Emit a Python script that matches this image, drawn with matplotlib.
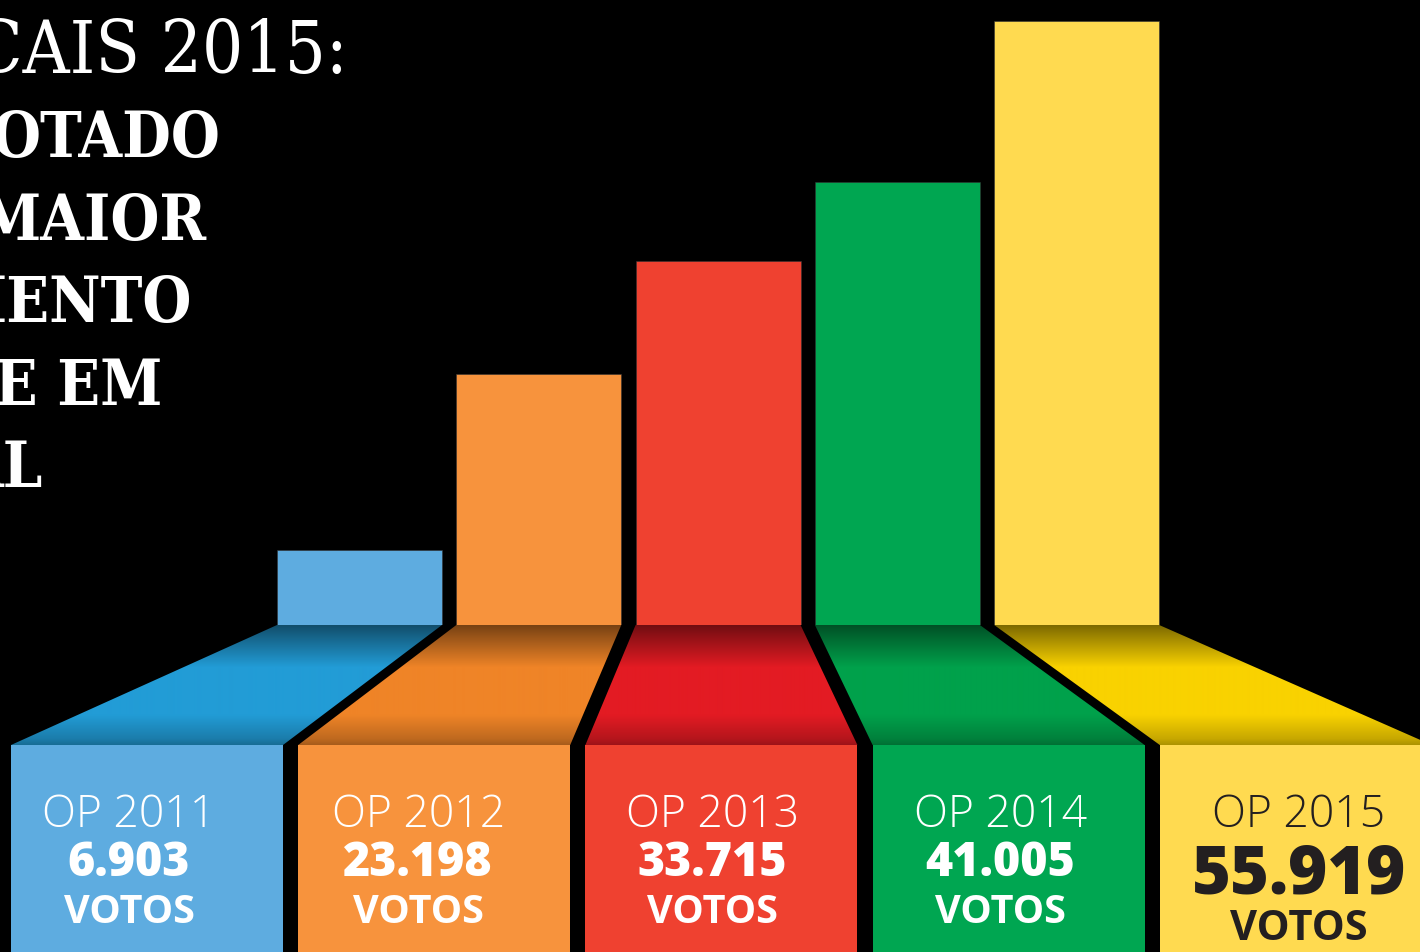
"""Participatory budget votes 2011-2015: stepped bars with perspective label boxes."""

import numpy as np
from matplotlib import pyplot as plt
from matplotlib.colors import to_rgb
from matplotlib.patches import Polygon, Rectangle

# ---- data -------------------------------------------------------------
editions = ["OP 2011", "OP 2012", "OP 2013", "OP 2014", "OP 2015"]
votes = [6903, 23198, 33715, 41005, 55919]
bar_colors = ["#5EACE0", "#F7933D", "#EF4130", "#00A651", "#FFDA50"]
ramp_colors = ["#229CD6", "#EF8427", "#E31B23", "#00A14B", "#F9D200"]
text_colors = ["white", "white", "white", "white", "#231F20"]

title_lines = ["CAIS 2015:", "OTADO", "MAIOR", "MENTO", "RE EM", "AL"]

W, H = 1420, 952
BASE_Y = 625      # top of the ramps, bottom of the bars (pixels from top)
BOX_Y = 745       # top of the label boxes
PX_PER_VOTE = 0.0108

fig = plt.figure(figsize=(W / 100, H / 100), dpi=100, facecolor="black")

# decoration layer in pixel coordinates (y downwards)
deco = fig.add_axes([0, 0, 1, 1])
deco.set_xlim(0, W)
deco.set_ylim(H, 0)
deco.set_facecolor("black")
deco.axis("off")

# bar layer: real vote scale
ax = fig.add_axes([0, 1 - BASE_Y / H, 1, BASE_Y / H])
ax.patch.set_alpha(0)
ax.axis("off")
step = 179.3
first_center = 359.5
ax.set_xlim(-first_center / step, (W - first_center) / step)
ax.set_ylim(0, BASE_Y / PX_PER_VOTE)
bars = ax.bar(range(len(votes)), votes, width=0.92, color=bar_colors,
              edgecolor="#333333", linewidth=0.4)


def to_pixels(x, y):
    disp = ax.transData.transform((x, y))
    return deco.transData.inverted().transform(disp)


# ---- ramps and label boxes ---------------------------------------------
box_left0, box_step, box_w = 11, 287.2, 272
text_shift = [-18, -16, -9, -8, 3]
profile_t = [0.0, 0.08, 0.35, 0.75, 0.95, 1.0]
profile_f = [0.50, 0.62, 1.00, 1.00, 0.80, 0.70]
t = np.linspace(0, 1, 120)
shade = np.interp(t, profile_t, profile_f)

for i, bar in enumerate(bars):
    x0 = bar.get_x()
    top_left = to_pixels(x0, 0)[0]
    top_right = to_pixels(x0 + bar.get_width(), 0)[0]
    bl = box_left0 + box_step * i
    br = bl + box_w
    poly = Polygon([(top_left, BASE_Y), (top_right, BASE_Y), (br, BOX_Y), (bl, BOX_Y)],
                   closed=True, facecolor="none", edgecolor="none")
    deco.add_patch(poly)
    rgb = np.array(to_rgb(ramp_colors[i]))
    grad = np.clip(shade[:, None, None] * rgb[None, None, :], 0, 1)
    xmin, xmax = min(top_left, bl) - 2, max(top_right, br) + 2
    im = deco.imshow(grad, extent=[xmin, xmax, BOX_Y, BASE_Y], aspect="auto",
                     interpolation="bilinear", zorder=1)
    im.set_clip_path(poly)

    deco.add_patch(Rectangle((bl, BOX_Y), box_w, H - BOX_Y, facecolor=bar_colors[i],
                             edgecolor="none", zorder=2))

    cx = bl + box_w / 2 + text_shift[i]
    col = text_colors[i]
    big = i == len(votes) - 1
    label = f"{votes[i]:,}".replace(",", ".")
    deco.text(cx, 827, editions[i], ha="center", va="baseline", color=col,
              fontsize=32, family="Open Sans", fontweight="light", zorder=3)
    deco.text(cx, 893 if big else 876, label, ha="center", va="baseline", color=col,
              fontsize=48 if big else 33.5, family="Open Sans", fontweight="heavy", zorder=3)
    deco.text(cx, 940 if big else 923, "VOTOS", ha="center", va="baseline", color=col,
              fontsize=30 if big else 28.5, family="Open Sans", fontweight="bold", zorder=3)

# ---- cropped title ------------------------------------------------------
title_right = [348, 220, 207, 192, 162, 43]
title_base = [73, 157, 240, 322, 405, 487]
for k, line in enumerate(title_lines):
    deco.text(title_right[k], title_base[k], line, ha="right", va="baseline",
              color="white", family="DejaVu Serif", fontstretch="condensed",
              fontweight="normal" if k == 0 else "bold",
              fontsize=52 if k == 0 else 45, zorder=3)

fig.savefig("out.png", dpi=100, facecolor="black")
